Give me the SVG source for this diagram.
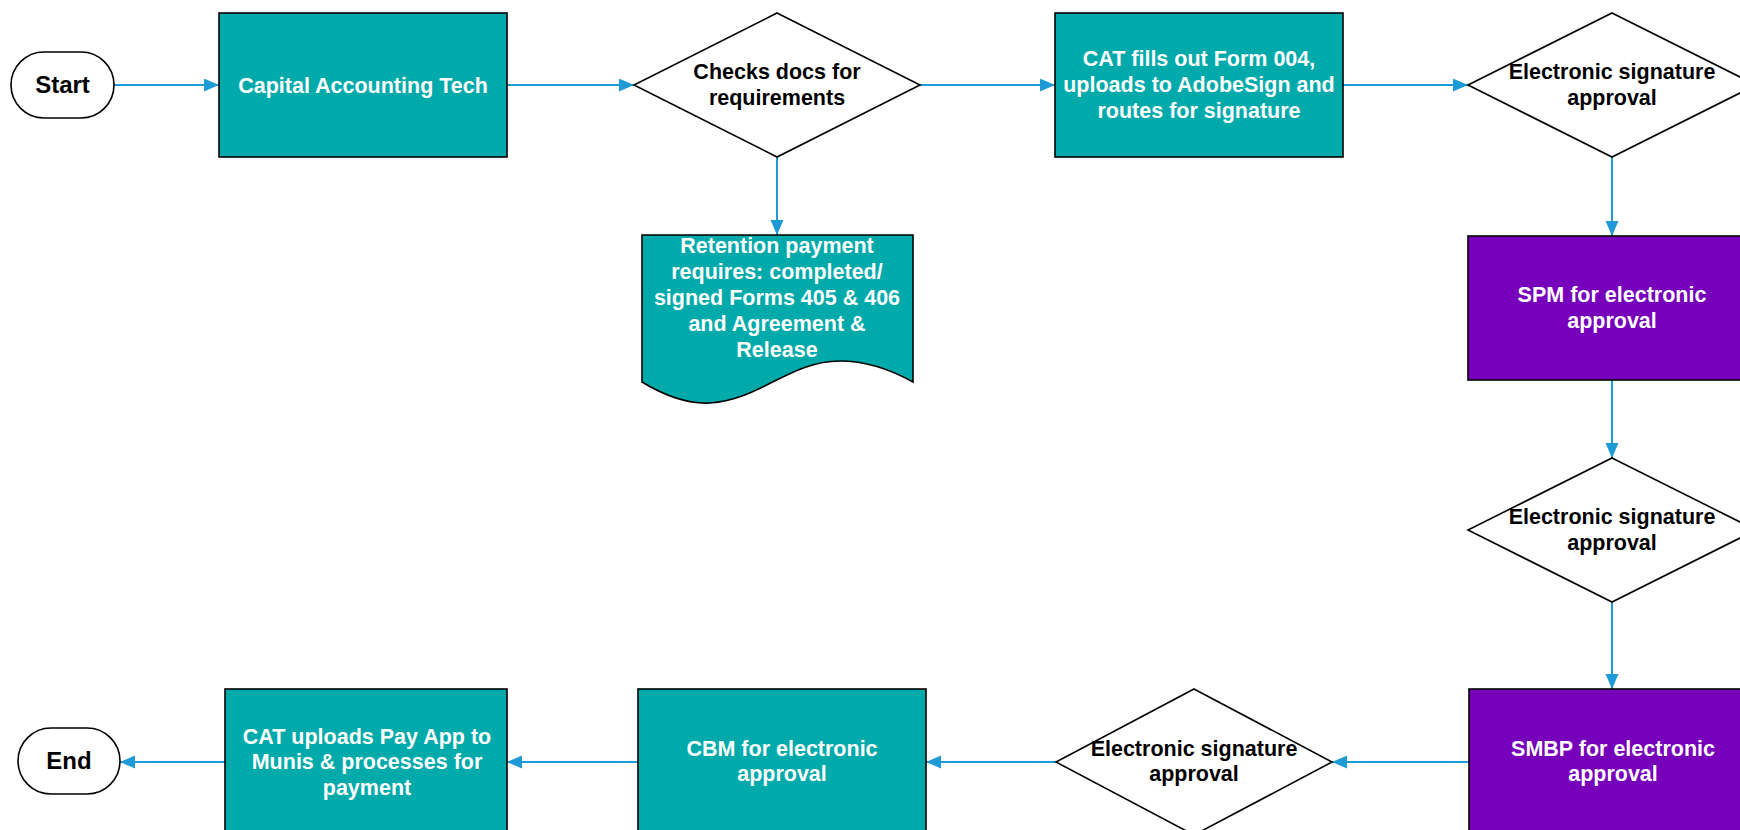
<svg xmlns="http://www.w3.org/2000/svg" width="1740" height="830" viewBox="0 0 1740 830">
<style>
.bg{fill:#FFFFFF}
.term{fill:#FFFFFF;stroke:#000;stroke-width:1.6}
.teal{fill:#00AAAA;stroke:#000;stroke-width:1.6}
.purple{fill:#7700BB;stroke:#000;stroke-width:1.6}
.dia{fill:#FFFFFF;stroke:#000;stroke-width:1.6}
.tw{font-family:"Liberation Sans",Arial,sans-serif;font-weight:bold;font-size:21.5px;fill:#FFFFFF;text-anchor:middle}
.tb{font-family:"Liberation Sans",Arial,sans-serif;font-weight:bold;font-size:21.5px;fill:#000;text-anchor:middle}
.tt{font-family:"Liberation Sans",Arial,sans-serif;font-weight:bold;font-size:24px;fill:#000;text-anchor:middle}
.con{fill:none;stroke:#1E9BD7;stroke-width:2;marker-end:url(#ah)}
</style>
<defs>
<marker id="ah" markerUnits="userSpaceOnUse" markerWidth="16" markerHeight="14" refX="15" refY="6.5" orient="auto">
<path d="M0,0 L15,6.5 L0,13 z" fill="#1E9BD7"/>
</marker>
</defs>
<rect class="bg" x="0" y="0" width="1740" height="830"/>
<g id="connectors">
<path class="con" d="M114,85 H219"/>
<path class="con" d="M507,85 H634"/>
<path class="con" d="M920,85 H1055"/>
<path class="con" d="M1343,85 H1468"/>
<path class="con" d="M777,157 V235"/>
<path class="con" d="M1612,157 V236"/>
<path class="con" d="M1612,380 V458"/>
<path class="con" d="M1612,602 V689"/>
<path class="con" d="M1469,762 H1332"/>
<path class="con" d="M1056,762 H926"/>
<path class="con" d="M638,762 H507"/>
<path class="con" d="M225,762 H120"/>
</g>
<g id="start">
<rect class="term" x="11" y="52" width="103" height="66" rx="33" ry="33"/>
<text class="tt" x="62.5" y="93">Start</text>
</g>
<g id="capital-accounting-tech">
<rect class="teal" x="219" y="13" width="288" height="144"/>
<text class="tw" x="363" y="92.5">Capital Accounting Tech</text>
</g>
<g id="checks-docs">
<polygon class="dia" points="777,13 920,85 777,157 634,85"/>
<text class="tb" x="777" y="79">Checks docs for</text>
<text class="tb" x="777" y="105">requirements</text>
</g>
<g id="retention-doc">
<path class="teal" d="M642,235 H913 V382 C895,372 870,361 840,361 C790,361 760,400 710,403 C688,404 665,396 642,382 Z"/>
<text class="tw" x="777" y="253">Retention payment</text>
<text class="tw" x="777" y="279">requires: completed/</text>
<text class="tw" x="777" y="305">signed Forms 405 &amp; 406</text>
<text class="tw" x="777" y="331">and Agreement &amp;</text>
<text class="tw" x="777" y="357">Release</text>
</g>
<g id="cat-fills-form">
<rect class="teal" x="1055" y="13" width="288" height="144"/>
<text class="tw" x="1199" y="66">CAT fills out Form 004,</text>
<text class="tw" x="1199" y="92">uploads to AdobeSign and</text>
<text class="tw" x="1199" y="118">routes for signature</text>
</g>
<g id="esig-1">
<polygon class="dia" points="1612,13 1756,85 1612,157 1468,85"/>
<text class="tb" x="1612" y="79">Electronic signature</text>
<text class="tb" x="1612" y="105">approval</text>
</g>
<g id="spm">
<rect class="purple" x="1468" y="236" width="288" height="144"/>
<text class="tw" x="1612" y="302">SPM for electronic</text>
<text class="tw" x="1612" y="328">approval</text>
</g>
<g id="esig-2">
<polygon class="dia" points="1612,458 1756,530 1612,602 1468,530"/>
<text class="tb" x="1612" y="524">Electronic signature</text>
<text class="tb" x="1612" y="550">approval</text>
</g>
<g id="smbp">
<rect class="purple" x="1469" y="689" width="288" height="144"/>
<text class="tw" x="1613" y="756">SMBP for electronic</text>
<text class="tw" x="1613" y="781">approval</text>
</g>
<g id="esig-3">
<polygon class="dia" points="1194,689 1332,762 1194,835 1056,762"/>
<text class="tb" x="1194" y="756">Electronic signature</text>
<text class="tb" x="1194" y="781">approval</text>
</g>
<g id="cbm">
<rect class="teal" x="638" y="689" width="288" height="144"/>
<text class="tw" x="782" y="756">CBM for electronic</text>
<text class="tw" x="782" y="781">approval</text>
</g>
<g id="cat-uploads">
<rect class="teal" x="225" y="689" width="282" height="144"/>
<text class="tw" x="367" y="744">CAT uploads Pay App to</text>
<text class="tw" x="367" y="769">Munis &amp; processes for</text>
<text class="tw" x="367" y="795">payment</text>
</g>
<g id="end">
<rect class="term" x="18" y="728" width="102" height="66" rx="33" ry="33"/>
<text class="tt" x="69" y="769">End</text>
</g>
</svg>
